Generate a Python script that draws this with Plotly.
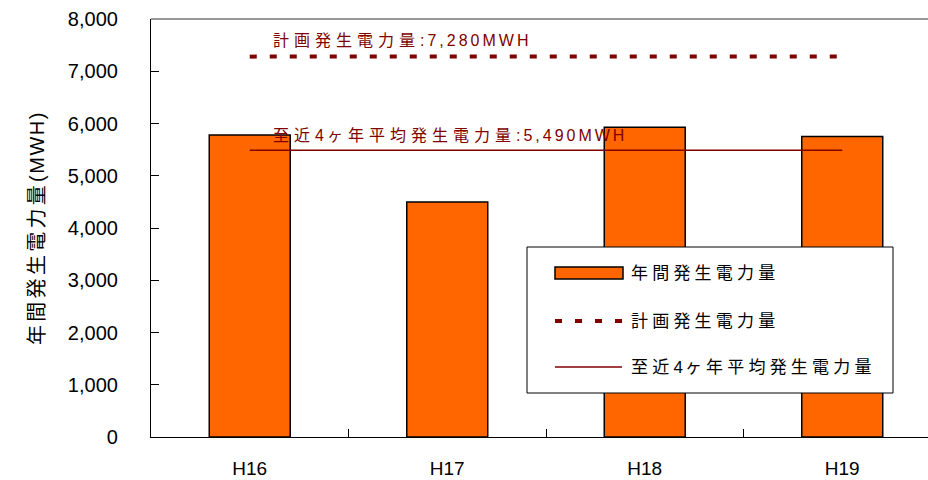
import re
import plotly.graph_objects as go

# Annual generation per fiscal year (MWh)
years = ["H16", "H17", "H18", "H19"]
annual_mwh = [5780, 4500, 5930, 5750]
planned_mwh = 7280
avg_mwh = round(sum(annual_mwh) / len(annual_mwh))

y_ticks = [0, 1000, 2000, 3000, 4000, 5000, 6000, 7000, 8000]

legend_names = ["年間発生電力量", "計画発生電力量", "至近4ヶ年平均発生電力量"]

W, H = 928, 480
L, R, T, B = 151, 0, 19, 43
PW, PH = W - L - R, H - T - B

RED = "#800000"
ORANGE = "#FF6600"
FONT = "Liberation Sans, Noto Sans CJK JP, sans-serif"


def px_x(px):
    return (px - L) / PW


def px_y(py):
    return 1 - (py - T) / PH


def spaced(text, cjk_sp, latin_sp):
    """Wrap runs of wide (CJK) and narrow (Latin) characters with their own letter spacing."""
    parts = re.findall(r"[\u3000-\u9fff\uff00-\uffef]+|[^\u3000-\u9fff\uff00-\uffef]+", text)
    out = []
    for p in parts:
        sp = cjk_sp if re.match(r"[\u3000-\u9fff\uff00-\uffef]", p) else latin_sp
        out.append(f'<span style="letter-spacing:{sp}px">{p}</span>')
    return "".join(out)


fig = go.Figure()

fig.add_trace(go.Bar(
    x=years, y=annual_mwh, width=0.41,
    marker=dict(color=ORANGE, line=dict(color="black", width=1.5)),
    name=legend_names[0], showlegend=False,
))

fig.add_trace(go.Scatter(
    x=[years[0], years[-1]], y=[planned_mwh, planned_mwh], mode="lines",
    line=dict(color=RED, width=4, dash="7px,13px"),
    name=legend_names[1], showlegend=False,
))

fig.add_trace(go.Scatter(
    x=[years[0], years[-1]], y=[avg_mwh, avg_mwh], mode="lines",
    line=dict(color=RED, width=1.5),
    name=legend_names[2], showlegend=False,
))

annotations = [
    dict(xref="paper", yref="y", x=px_x(271), y=planned_mwh, yshift=16,
         xanchor="left", yanchor="middle", showarrow=False,
         text=spaced(f"計画発生電力量:{planned_mwh:,}MWH", 5, 3),
         font=dict(size=16, color=RED, family=FONT)),
    dict(xref="paper", yref="y", x=px_x(271), y=avg_mwh, yshift=15,
         xanchor="left", yanchor="middle", showarrow=False,
         text=spaced(f"至近4ヶ年平均発生電力量:{avg_mwh:,}MWH", 5, 3),
         font=dict(size=16, color=RED, family=FONT)),
    dict(xref="paper", yref="paper", x=px_x(37), y=0.5,
         xanchor="center", yanchor="middle", showarrow=False, textangle=-90,
         text=spaced("年間発生電力量(MWH)", 3.3, 1.5),
         font=dict(size=20, color="black", family=FONT)),
]

# Legend box drawn by hand
shapes = [
    dict(type="rect", xref="paper", yref="paper",
         x0=px_x(527), x1=px_x(893), y0=px_y(393), y1=px_y(247),
         line=dict(color="black", width=1), fillcolor="white", layer="above"),
    dict(type="rect", xref="paper", yref="paper",
         x0=px_x(555), x1=px_x(623), y0=px_y(279), y1=px_y(267),
         line=dict(color="black", width=1.5), fillcolor=ORANGE, layer="above"),
    dict(type="line", xref="paper", yref="paper",
         x0=px_x(555), x1=px_x(622), y0=px_y(321), y1=px_y(321),
         line=dict(color=RED, width=4, dash="7px,13px"), layer="above"),
    dict(type="line", xref="paper", yref="paper",
         x0=px_x(555), x1=px_x(622), y0=px_y(367), y1=px_y(367),
         line=dict(color=RED, width=1.5), layer="above"),
    # top frame line
    dict(type="line", xref="paper", yref="paper",
         x0=0, x1=1, y0=1, y1=1, line=dict(color="#333333", width=1.2)),
]
for name, py in zip(legend_names, [273, 321, 367]):
    annotations.append(dict(
        xref="paper", yref="paper", x=px_x(629), y=px_y(py),
        xanchor="left", yanchor="middle", showarrow=False,
        text=spaced(name, 4.2, 2), font=dict(size=17, color="black", family=FONT)))

fig.update_layout(
    width=W, height=H,
    margin=dict(l=L, r=R, t=T, b=B, pad=0),
    paper_bgcolor="white", plot_bgcolor="white",
    font=dict(family=FONT, color="black"),
    showlegend=False,
    annotations=annotations,
    shapes=shapes,
)

fig.update_xaxes(
    type="category", categoryorder="array", categoryarray=years,
    range=[-0.5, 3.5 - 13 / 197.5], automargin=False,
    showline=True, linecolor="black", linewidth=1.2,
    ticks="inside", tickson="boundaries", ticklen=8, tickcolor="black",
    tickfont=dict(size=19, family=FONT), ticklabelstandoff=14,
    showgrid=False, zeroline=False, fixedrange=True,
)
fig.update_yaxes(
    range=[0, 8000], tickvals=y_ticks, tickformat=",", automargin=False,
    showline=True, linecolor="black", linewidth=1.2,
    ticks="inside", ticklen=8, tickcolor="black",
    tickfont=dict(size=20, family=FONT), ticklabelstandoff=28,
    showgrid=False, zeroline=False, fixedrange=True,
)

fig.write_html("out.html")
